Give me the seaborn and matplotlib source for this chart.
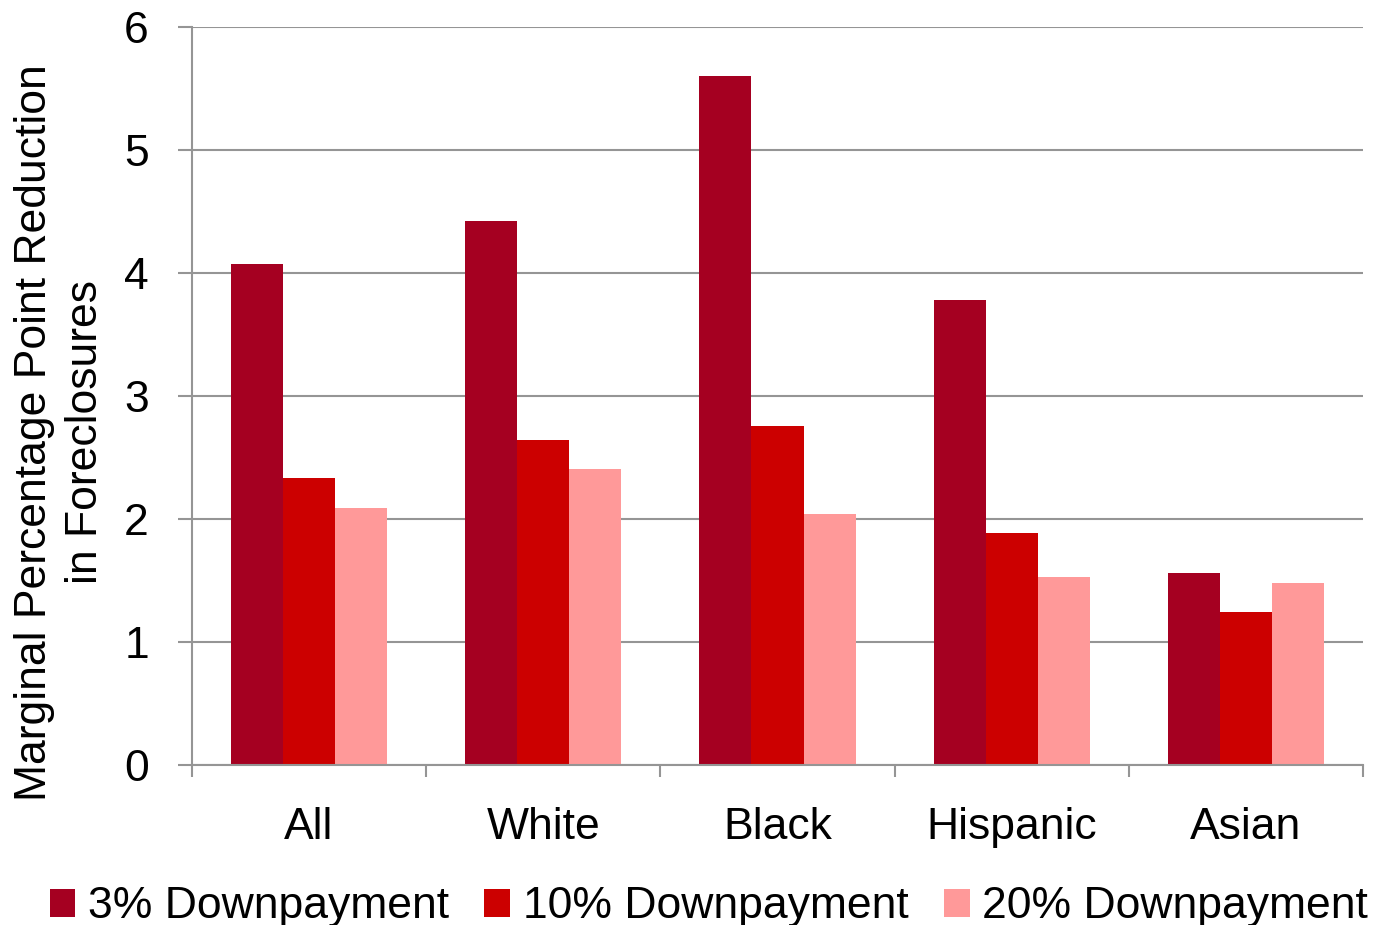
import matplotlib
matplotlib.use("Agg")
import matplotlib.pyplot as plt
import seaborn as sns
import pandas as pd
from matplotlib.patches import Patch
from matplotlib.ticker import FixedLocator

groups = ["All", "White", "Black", "Hispanic", "Asian"]
series = ["3% Downpayment", "10% Downpayment", "20% Downpayment"]
down_3 = [4.07, 4.42, 5.60, 3.78, 1.56]
down_10 = [2.33, 2.64, 2.76, 1.89, 1.24]
down_20 = [2.09, 2.41, 2.04, 1.53, 1.48]
colors = ["#A50021", "#CC0000", "#FF9999"]

df = pd.DataFrame({
    "group": groups * 3,
    "series": [series[0]] * 5 + [series[1]] * 5 + [series[2]] * 5,
    "value": down_3 + down_10 + down_20,
})

sns.set_theme(style="white")
plt.rcParams["font.family"] = ["Liberation Sans", "DejaVu Sans"]
plt.rcParams["text.color"] = "black"
plt.rcParams["axes.labelcolor"] = "black"
plt.rcParams["xtick.color"] = "black"
plt.rcParams["ytick.color"] = "black"

fig = plt.figure(figsize=(13.75, 9.25), dpi=100)
ax = fig.add_axes([0.1396, 0.173, 0.8517, 0.7978])

sns.barplot(data=df, x="group", y="value", hue="series", order=groups,
            hue_order=series, palette=colors, width=0.667, saturation=1,
            linewidth=0, ax=ax, legend=False)

grid_c = "#959595"
ax.set_xlim(-0.5, 4.5)
ax.set_ylim(0, 6)
ax.set_yticks(range(0, 7))
ax.yaxis.grid(True, color=grid_c, linewidth=1.5)
ax.set_axisbelow(True)
for s in ["top", "right"]:
    ax.spines[s].set_visible(False)
for s in ["left", "bottom"]:
    ax.spines[s].set_color(grid_c)
    ax.spines[s].set_linewidth(1.5)

ax.tick_params(axis="y", length=10, width=1.5, color=grid_c,
               labelcolor="black", labelsize=32, pad=21, left=True)
ax.tick_params(axis="x", which="major", length=0, labelsize=32,
               labelcolor="black", pad=30)
ax.xaxis.set_minor_locator(FixedLocator([-0.5, 0.5, 1.5, 2.5, 3.5, 4.5]))
ax.tick_params(axis="x", which="minor", length=8.6, width=1.5,
               color=grid_c, bottom=True)
ax.set_xlabel("")
ax.set_ylabel("Marginal Percentage Point Reduction\nin Foreclosures",
              fontsize=32, linespacing=1.3, va="center")
ax.yaxis.set_label_coords(-0.1127, 0.451)

handles = [Patch(facecolor=c, edgecolor="none") for c in colors]
fig.legend(handles, series, loc="center", bbox_to_anchor=(0.5155, 0.0195),
           ncol=3, frameon=False, fontsize=32, handlelength=0.58,
           handleheight=0.58, handletextpad=0.28, columnspacing=0.8,
           borderaxespad=0, borderpad=0)

fig.savefig("out.png", dpi=100)
